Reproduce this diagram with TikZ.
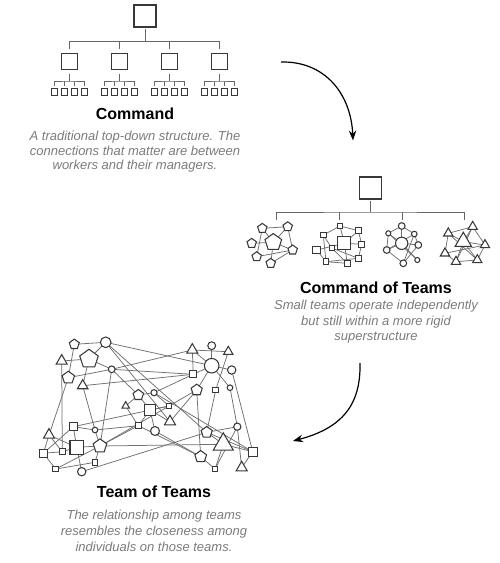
\documentclass[tikz,border=0pt]{standalone}
\usepackage{fontspec}
\setmainfont{Liberation Sans}
\usetikzlibrary{shapes.geometric,arrows.meta}
\definecolor{edgecol}{HTML}{707070}
\definecolor{shpcol}{HTML}{383838}
\definecolor{desccol}{HTML}{7C7C7C}
\definecolor{treecol}{HTML}{666666}
\pgfdeclarelayer{bg}
\pgfdeclarelayer{paper}
\pgfsetlayers{paper,bg,main}
\begin{document}
\begin{tikzpicture}[x=1pt,y=-1pt,
 shp/.style={draw=shpcol, fill=white, line width=1.05pt, inner sep=0pt, outer sep=0pt},
 sq/.style={shp, rectangle, minimum size={1.12*#1}},
 ci/.style={shp, circle, minimum size={1.12*#1}},
 pe/.style={shp, regular polygon, regular polygon sides=5, minimum size={1.3*#1}},
 tr/.style={shp, regular polygon, regular polygon sides=3, minimum size={1.35*#1}},
 tbox/.style={draw=shpcol, fill=white, line width=1.1pt, minimum size=#1, inner sep=0pt, outer sep=0pt},
 tline/.style={draw=treecol, line width=0.9pt},
 ed/.style={draw=edgecol, line width=0.75pt},
 ttl/.style={font=\bfseries\fontsize{16}{19}\selectfont, anchor=base, inner sep=0pt},
 dsc/.style={font=\itshape\fontsize{13}{15}\selectfont, text=desccol, anchor=base, inner sep=0pt},
 arr/.style={draw=black, line width=1.2pt, -{Stealth[length=10pt,width=7.5pt]}}
]
\begin{pgfonlayer}{paper}
\fill[white] (0,0) rectangle (500,563);
\end{pgfonlayer}
\useasboundingbox (0,0) rectangle (500,563);

% ---------------- Command ----------------
\node[tbox=22] (ctop) at (145,16) {};
\draw[tline] ([yshift=-1.5pt]ctop.south) -- ++(0,13) coordinate (cj);
\foreach \i/\x in {1/69.5,2/119.5,3/169.5,4/219.5}{
  \node[tbox=16] (cm\i) at (\x,61.5) {};
  \foreach \j/\d in {1/-15,2/-5,3/5,4/15}{
    \node[tbox=6.8, line width=0.95pt] (cs\i\j) at (\x+\d,92) {};
  }
  \draw[tline] ([yshift=-4pt]cm\i.south) -- ++(0,7.5) coordinate (cj\i);
  \draw[tline] ([yshift=2.5pt]cs\i1.north) |- (cj\i) -| ([yshift=2.5pt]cs\i4.north);
  \draw[tline] ([yshift=2.5pt]cs\i2.north) -- (cs\i2.north |- cj\i);
  \draw[tline] ([yshift=2.5pt]cs\i3.north) -- (cs\i3.north |- cj\i);
}
\draw[tline] ([yshift=5pt]cm1.north) |- (cj) -| ([yshift=5pt]cm4.north);
\draw[tline] ([yshift=5pt]cm2.north) -- (cm2.north |- cj);
\draw[tline] ([yshift=5pt]cm3.north) -- (cm3.north |- cj);

\node[ttl] (t1) at (135,119.5) {Command};
\node[dsc] (d11) at (135,140.5) {A traditional top-down structure. The};
\node[dsc] (d12) at (135,155) {connections that matter are between};
\node[dsc] (d13) at (135,169.5) {workers and their managers.};

% ---------------- Arrows ----------------
\coordinate (a1s) at (281,62);
\coordinate (a1e) at (353,140.5);
\draw[arr] (a1s) .. controls (326,61) and (351,95) .. (a1e);
\coordinate (a2s) at (360,363);
\coordinate (a2e) at (293,441);
\draw[arr] (a2s) .. controls (361,405) and (342,428) .. (a2e);

% ---------------- Command of Teams ----------------
\node[tbox=22] (ttop) at (370.5,188) {};
\draw[tline] ([yshift=-1.5pt]ttop.south) -- ++(0,11.5) coordinate (tj);
\coordinate (td1) at (276,219.5);
\coordinate (td2) at (339.5,219.5);
\coordinate (td3) at (402,219.5);
\coordinate (td4) at (464.5,219.5);
\draw[tline] (td1) |- (tj) -| (td4);
\draw[tline] (td2) -- (td2 |- tj);
\draw[tline] (td3) -- (td3 |- tj);

% cluster 1: pentagons
\node[pe=13.5] (p0) at (273.3,242.3) {};
\node[pe=7.6] (p1) at (262.3,228.3) {};
\node[pe=7.6] (p2) at (287.7,226.7) {};
\node[pe=7.6] (p3) at (251.7,243.3) {};
\node[pe=7.6] (p4) at (292.7,250) {};
\node[pe=7.6] (p5) at (256.7,256.7) {};
\node[pe=7.6] (p6) at (270.7,263.3) {};
% cluster 2: squares
\node[sq=11.5] (s0) at (344.3,243.3) {};
\node[sq=5] (s1) at (340,226) {};
\node[sq=5] (s2) at (323.3,235) {};
\node[sq=5] (s3) at (358.3,230.7) {};
\node[sq=7] (s4) at (316.7,250) {};
\node[sq=4.5] (s5) at (331.7,248) {};
\node[sq=5.5] (s6) at (361.7,244.3) {};
\node[sq=5] (s7) at (326,261.7) {};
\node[sq=5] (s8) at (347.3,263.3) {};
\node[sq=5] (s9) at (358.3,258.3) {};
% cluster 3: circles
\node[ci=11] (c0) at (401.7,243.3) {};
\node[ci=6] (c1) at (401.7,226) {};
\node[ci=4.5] (c2) at (388.3,233.3) {};
\node[ci=5] (c3) at (414.3,234) {};
\node[ci=6] (c4) at (386.7,250) {};
\node[ci=6] (c5) at (418.3,245) {};
\node[ci=4.5] (c6) at (417.3,260) {};
\node[ci=6] (c7) at (403.3,263.3) {};
% cluster 4: triangles
\node[tr=14] (q0) at (463.3,241.7) {};
\node[tr=8] (q1) at (448.3,233.3) {};
\node[tr=8] (q2) at (472.7,226.7) {};
\node[tr=8] (q3) at (485,245) {};
\node[tr=8] (q4) at (445,253.3) {};
\node[tr=8] (q5) at (456,261.7) {};
\node[tr=8] (q6) at (477.3,260) {};

\begin{pgfonlayer}{bg}
\foreach \a/\b in {1/2,1/5,2/4,2/0,3/0,0/4,5/4,6/4,1/0,0/6}
  \draw[ed] (p\a) -- (p\b);
\foreach \a/\b in {1/0,1/3,2/5,2/7,3/6,4/0,5/8,6/0,6/9,0/8,7/8,7/9,1/2,3/0,9/5,4/7}
  \draw[ed] (s\a) -- (s\b);
\foreach \a/\b in {1/0,1/2,1/3,2/0,2/4,3/5,3/7,0/5,4/0,4/7,0/6,2/6,5/7,4/3}
  \draw[ed] (c\a) -- (c\b);
\foreach \a/\b in {1/2,1/0,1/4,2/0,2/3,2/5,0/3,0/6,4/3,4/5,5/6,1/6,0/5,3/6}
  \draw[ed] (q\a) -- (q\b);
\end{pgfonlayer}

\node[ttl] (t2) at (376,293) {Command of Teams};
\node[dsc] (d21) at (376,309.5) {Small teams operate independently};
\node[dsc] (d22) at (376,325) {but still within a more rigid};
\node[dsc] (d23) at (376,340.5) {superstructure};

% ---------------- Team of Teams ----------------
\node[pe=8] (n1) at (74.3,344.3) {};
\node[ci=9.5] (n2) at (105.7,342.3) {};
\node[tr=9.5] (n3) at (61.7,361) {};
\node[pe=15] (n4) at (89,359) {};
\node[pe=10] (n5) at (68.3,377.7) {};
\node[ci=6] (n6) at (111.7,369.3) {};
\node[tr=9] (n7) at (82.7,385.7) {};
\node[pe=8.5] (n8) at (138.3,395) {};
\node[ci=5.5] (n9) at (154,392.7) {};
\node[tr=6.5] (n10) at (125.7,406) {};
\node[sq=10] (n11) at (150,410) {};
\node[sq=5] (n12) at (169,406) {};
\node[tr=9.5] (n13) at (170,421.7) {};
\node[ci=8] (n14) at (155,431) {};
\node[sq=5] (n15) at (138.3,425.7) {};
\node[ci=5] (n16) at (95,430) {};
\node[sq=7] (n17) at (73.3,426.7) {};
\node[tr=9.5] (n18) at (49,435) {};
\node[sq=12] (n19) at (76.7,447.3) {};
\node[pe=11] (n20) at (100,446) {};
\node[sq=5] (n21) at (62.3,451.7) {};
\node[sq=7.5] (n22) at (43.3,453.3) {};
\node[sq=5] (n23) at (55.7,469) {};
\node[ci=7.5] (n24) at (81.7,471.7) {};
\node[sq=5] (n25) at (95,462.3) {};
\node[tr=9.5] (n26) at (192.3,350) {};
\node[ci=7] (n27) at (211.7,345.7) {};
\node[tr=8] (n28) at (228.3,351.7) {};
\node[ci=13] (n29) at (211.7,365.7) {};
\node[ci=7.5] (n30) at (231.7,370) {};
\node[sq=6.5] (n31) at (193.3,374.3) {};
\node[pe=9] (n32) at (196.7,390) {};
\node[sq=5] (n33) at (215.7,390) {};
\node[ci=5] (n34) at (230,387.7) {};
\node[pe=9] (n35) at (206.7,432.3) {};
\node[ci=6.5] (n36) at (237.3,426.7) {};
\node[tr=17] (n37) at (223.3,444.3) {};
\node[sq=8] (n38) at (252.7,451.7) {};
\node[pe=9.5] (n39) at (200.7,456.7) {};
\node[sq=5] (n40) at (215,469) {};
\node[tr=9.5] (n41) at (241.7,467.7) {};

\begin{pgfonlayer}{bg}
\foreach \a/\b in {1/2,1/5,2/4,3/4,4/6,5/6,4/7,3/21,5/18,6/26,6/8,6/20,7/16,7/31,6/31,
  2/13,2/35,2/29,8/9,8/10,9/12,9/31,10/15,11/12,11/13,11/14,11/15,8/11,13/32,9/38,
  15/16,15/20,15/39,16/17,16/20,17/19,17/12,18/19,18/21,19/20,19/21,21/22,22/23,23/25,
  23/20,24/19,24/35,25/20,20/37,22/17,26/28,26/29,26/31,27/29,28/33,29/30,29/31,29/34,
  30/38,32/39,33/35,34/36,35/36,35/37,35/38,36/40,36/41,37/38,37/40,38/41,39/40,14/39,
  32/20,29/32,18/22}
  \draw[ed] (n\a) -- (n\b);
\end{pgfonlayer}

\node[ttl] (t3) at (154,497) {Team of Teams};
\node[dsc] (d31) at (154,519.5) {The relationship among teams};
\node[dsc] (d32) at (154,535) {resembles the closeness among};
\node[dsc] (d33) at (154,551) {individuals on those teams.};
\end{tikzpicture}
\end{document}
